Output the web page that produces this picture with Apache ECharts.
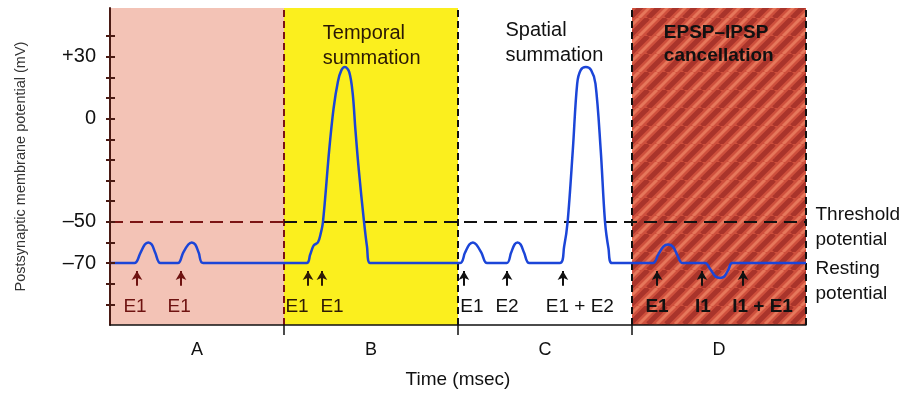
<!DOCTYPE html>
<html>
<head>
<meta charset="utf-8">
<title>Postsynaptic potential summation</title>
<script src="https://cdn.jsdelivr.net/npm/echarts@6/dist/echarts.min.js"></script>
<style>
html, body { margin: 0; padding: 0; background: #fff; }
#chart { width: 910px; height: 394px; }
</style>
</head>
<body>
<div id="chart"></div>
<script>
// panels along the time axis (msec)
const sections = ['A', 'B', 'C', 'D'];
const sectionEdges = [0, 10, 20, 30, 40];
const sectionTitles = ['', 'Temporal\nsummation', 'Spatial\nsummation', 'EPSP\u2013IPSP\ncancellation'];
const titlePos = [null, [12.2, 35], [22.7, 36.5], [31.8, 36]];

const threshold = -50;
const resting = -70;
const yTicks = [-90, -80, -70, -60, -50, -40, -30, -20, -10, 0, 10, 20, 30, 40];
const yLabels = [30, 0, -50, -70];

// membrane potential trace [msec, mV]
const traceA = [[0, -70], [1.4, -70], [1.75, -65], [2.0, -61], [2.2, -60], [2.4, -61], [2.6, -65], [2.9, -70],
  [3.9, -70], [4.2, -65], [4.5, -61], [4.7, -60], [4.9, -61], [5.1, -65], [5.35, -70]];
const traceB = [[11.3, -70], [11.5, -66], [11.7, -61.5], [11.95, -60], [12.1, -56], [12.24, -50], [12.6, -15],
  [12.85, 5], [13.1, 18], [13.3, 23.5], [13.5, 25], [13.75, 22.5], [13.95, 12], [14.1, -5], [14.3, -25],
  [14.6, -50], [14.77, -62], [14.95, -70]];
const traceC = [[20.1, -70], [20.4, -65], [20.65, -61], [20.86, -60], [21.05, -61], [21.35, -65], [21.67, -70],
  [22.8, -70], [23.05, -65], [23.25, -61], [23.42, -60], [23.6, -61], [23.8, -65], [24.1, -70],
  [25.85, -70], [26.1, -62], [26.3, -50], [26.6, -15], [26.85, 17], [27.05, 23.5], [27.35, 25],
  [27.65, 23.5], [27.9, 17], [28.2, -15], [28.45, -50], [28.65, -63], [28.85, -70]];
const traceD = [[31.2, -70], [31.5, -66], [31.8, -62], [32.07, -61], [32.35, -62], [32.6, -66], [32.9, -70],
  [34.2, -70], [34.5, -73], [34.8, -76.5], [35.06, -77.2], [35.3, -76.5], [35.55, -73], [35.75, -70], [40, -70]];
const trace = traceA.concat(traceB, traceC, traceD);

// stimuli: arrow times, panel, label text and label position
const stimTimes = [1.55, 4.08, 11.38, 12.18, 20.34, 22.82, 26.03, 31.44, 34.02, 36.38];
const stimPanel = [0, 0, 1, 1, 2, 2, 2, 3, 3, 3];
const stimText = ['E1', 'E1', 'E1', 'E1', 'E1', 'E2', 'E1 + E2', 'E1', 'I1', 'I1 + E1'];
const stimTextTimes = [1.44, 3.97, 10.75, 12.76, 20.8, 22.82, 27.0, 31.44, 34.08, 37.5];
const arrowTail = -81, arrowTip = -73.8, stimTextLevel = -91;

const panelFill = ['#f3c3b6', '#fbef1e', null, 'stripes'];
const panelInk = ['#6e1210', '#2e1a06', '#111', '#111'];
const edgeInk = ['#7a1414', '#111', '#111', '#111'];
const FONT = '"Liberation Sans", Arial, sans-serif';
const HIDDEN = { color: 'rgba(0,0,0,0)', opacity: 1 };

function stripes() {
  const c = document.createElement('canvas');
  c.width = c.height = 18;
  const g = c.getContext('2d');
  g.fillStyle = '#cf503d';
  g.fillRect(0, 0, 18, 18);
  g.lineWidth = 5;
  g.strokeStyle = '#a9342b';
  [-18, 0, 18].forEach(k => { g.beginPath(); g.moveTo(k, 18); g.lineTo(k + 18, 0); g.stroke(); });
  g.lineWidth = 3;
  g.strokeStyle = '#e6775b';
  [-9, 9].forEach(k => { g.beginPath(); g.moveTo(k, 18); g.lineTo(k + 18, 0); g.stroke(); });
  return c;
}

const chart = echarts.init(document.getElementById('chart'));

const areas = [];
for (let i = 0; i < sections.length; i++) {
  if (!panelFill[i]) continue;
  const color = panelFill[i] === 'stripes' ? { image: stripes(), repeat: 'repeat' } : panelFill[i];
  areas.push([{ xAxis: sectionEdges[i], itemStyle: { color: color } }, { xAxis: sectionEdges[i + 1] }]);
}

const edges = sectionEdges.slice(1).map((x, i) => ({ xAxis: x, lineStyle: { color: edgeInk[i], type: [7, 4] } }));
const thresholdSegs = [
  [{ coord: [sectionEdges[0], threshold], lineStyle: { color: '#7a1414', type: [13, 7] } }, { coord: [sectionEdges[1], threshold] }],
  [{ coord: [sectionEdges[1], threshold], lineStyle: { color: '#111', type: [13, 7] } }, { coord: [sectionEdges[4], threshold] }]
];
const arrows = stimTimes.map((t, i) => [
  { coord: [t, arrowTail], lineStyle: { color: panelInk[stimPanel[i]] }, itemStyle: { color: panelInk[stimPanel[i]] } },
  { coord: [t, arrowTip] }
]);

const stimLabels = stimText.map((s, i) => ({
  value: [stimTextTimes[i], stimTextLevel],
  label: { formatter: s, color: panelInk[stimPanel[i]], fontWeight: stimPanel[i] === 3 ? 'bold' : 'normal' }
}));

const titles = [];
for (let i = 1; i < sections.length; i++) {
  titles.push({
    value: titlePos[i],
    label: {
      formatter: sectionTitles[i], color: i === 1 ? '#2a1805' : '#111',
      fontWeight: i === 3 ? 'bold' : 'normal', fontSize: i === 3 ? 19 : 20,
      lineHeight: i === 3 ? 23 : 25
    }
  });
}

const tickStyle = { color: '#4a1a14', width: 2 };
const yMin = -100, yMax = 53.6;

const option = {
  animation: false,
  grid: { left: 110, right: 104, top: 8, bottom: 67 },
  xAxis: {
    type: 'value', min: 0, max: 40, z: 10,
    name: 'Time (msec)', nameLocation: 'middle', nameGap: 45,
    nameTextStyle: { fontFamily: FONT, fontSize: 19, color: '#111' },
    axisLine: { onZero: false, lineStyle: { color: '#111', width: 1.5 } },
    axisTick: { show: true, customValues: sectionEdges.slice(1, 4), length: 10, lineStyle: { color: '#111', width: 1.5 } },
    axisLabel: {
      customValues: [5, 15, 25, 35], margin: 16,
      formatter: v => sections[Math.floor(v / 10)],
      fontFamily: FONT, fontSize: 18, color: '#111'
    },
    splitLine: { show: false }
  },
  yAxis: [{
    type: 'value', min: yMin, max: yMax, z: 10,
    name: 'Postsynaptic membrane potential (mV)', nameLocation: 'middle', nameGap: 82,
    nameTextStyle: { fontFamily: FONT, fontSize: 14.5, color: '#333' },
    axisLine: { onZero: false, lineStyle: { color: '#4a1a14', width: 2 } },
    axisTick: { customValues: yTicks, length: 4, lineStyle: tickStyle },
    axisLabel: {
      customValues: yLabels, margin: 14,
      formatter: v => v > 0 ? '+' + v : v < 0 ? '\u2013' + (-v) : '0',
      fontFamily: FONT, fontSize: 20, color: '#111'
    },
    splitLine: { show: false }
  }, {
    type: 'value', min: yMin, max: yMax, position: 'left', z: 10,
    axisLine: { show: false, onZero: false },
    axisTick: { show: true, inside: true, customValues: yTicks, length: 5, lineStyle: tickStyle },
    axisLabel: { show: false },
    splitLine: { show: false }
  }],
  series: [
    {
      name: 'panels', type: 'line', data: [], silent: true,
      markArea: { silent: true, data: areas },
      markLine: {
        silent: true, symbol: 'none', label: { show: false },
        lineStyle: { width: 2 },
        data: edges.concat(thresholdSegs)
      }
    },
    {
      name: 'potential', type: 'line', data: trace, smooth: 0.35, showSymbol: false,
      lineStyle: { color: '#1b45d8', width: 2.5 }, z: 5
    },
    {
      name: 'stimuli', type: 'line', data: [], silent: true,
      markLine: {
        silent: true, symbol: ['none', 'arrow'], symbolSize: [8, 9], label: { show: false },
        lineStyle: { type: 'solid', width: 2 }, data: arrows
      }
    },
    {
      name: 'stimulus labels', type: 'scatter', data: stimLabels, symbolSize: 1, silent: true,
      itemStyle: HIDDEN,
      label: { show: true, opacity: 1, position: 'inside', fontFamily: FONT, fontSize: 19 }, z: 6
    },
    {
      name: 'titles', type: 'scatter', data: titles, symbolSize: 1, silent: true,
      itemStyle: HIDDEN,
      label: { show: true, opacity: 1, position: 'right', distance: 0, align: 'left', fontFamily: FONT }, z: 6
    },
    {
      name: 'levels', type: 'scatter', symbolSize: 1, silent: true, clip: false,
      itemStyle: HIDDEN,
      data: [
        { value: [40, threshold], label: { formatter: 'Threshold\npotential', offset: [3, 5] } },
        { value: [40, resting], label: { formatter: 'Resting\npotential', offset: [3, 18] } }
      ],
      label: { show: true, opacity: 1, position: 'right', distance: 6, fontFamily: FONT, fontSize: 19, lineHeight: 25, color: '#111' }
    }
  ]
};

chart.setOption(option);
</script>
</body>
</html>
